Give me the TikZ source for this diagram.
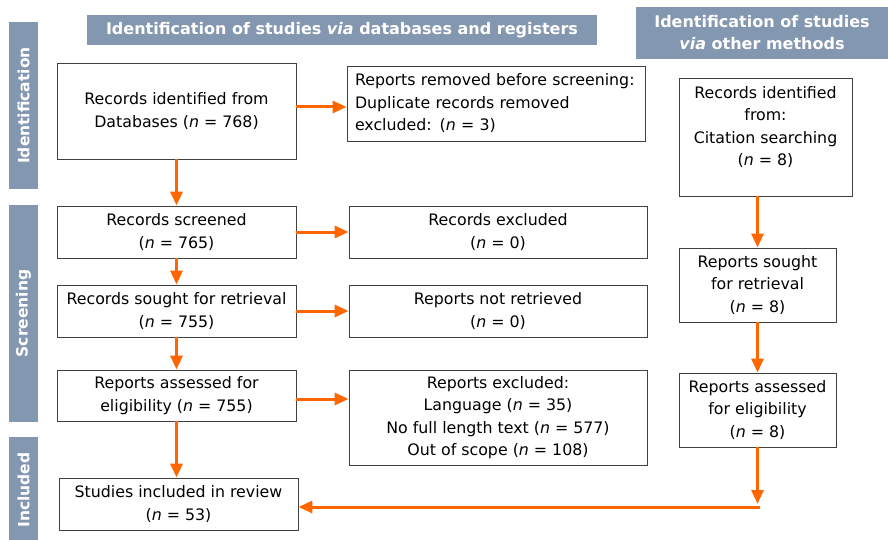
\documentclass[tikz,border=0pt]{standalone}
\usepackage{fontspec}
\setmainfont{DejaVu Sans}
\usetikzlibrary{arrows.meta}
\definecolor{headblue}{RGB}{132,151,176}
\definecolor{flow}{RGB}{255,102,0}
\definecolor{boxline}{RGB}{64,64,64}
\newcommand{\nn}{\textit{n}}

\begin{document}
\begin{tikzpicture}[x=1pt,y=-1pt,
  box/.style={draw=boxline,line width=0.9pt,align=center,inner sep=0pt,
    font=\fontsize{15.8}{22.5}\selectfont},
  head/.style={fill=headblue,text=white,align=center,inner sep=0pt,
    font=\fontsize{16}{22}\selectfont\bfseries},
  side/.style={fill=headblue,text=white,rotate=90,inner sep=0pt,minimum height=29,
    font=\fontsize{15.5}{16}\selectfont\bfseries},
  flowarrow/.style={draw=flow,line width=3pt,-{Triangle[length=14pt,width=12pt]}}]
\useasboundingbox (0,0) rectangle (888,540);

% column headers and stage bars
\node[head,minimum width=510,minimum height=30] (hdb) at (342,30)
  {Identification of studies \textit{via} databases and registers};
\node[head,minimum width=252,minimum height=52] (hot) at (762,33)
  {Identification of studies\\\textit{via} other methods};
\node[side,minimum width=167] (sid) at (23.5,105.5) {Identification};
\node[side,minimum width=217] (sscr) at (23.5,313.5) {Screening};
\node[side,minimum width=106] (sinc) at (23.5,490) {Included};

% databases and registers
\node[box,minimum width=239,minimum height=96] (ida) at (176.5,111)
  {Records identified from\\Databases (\nn{} = 768)};
\node[box,align=left,text width=282,inner xsep=8,minimum height=75] (dup) at (496,103.5)
  {Reports removed before screening:\\Duplicate records removed\\excluded: (\nn{} = 3)};
\node[box,minimum width=239,minimum height=52] (scr) at (176.5,232)
  {Records screened\\(\nn{} = 765)};
\node[box,minimum width=298,minimum height=52] (rex) at (498,232)
  {Records excluded\\(\nn{} = 0)};
\node[box,minimum width=239,minimum height=52] (sgt) at (176.5,311)
  {Records sought for retrieval\\(\nn{} = 755)};
\node[box,minimum width=298,minimum height=52] (nrt) at (498,311)
  {Reports not retrieved\\(\nn{} = 0)};
\node[box,minimum width=239,minimum height=51] (ass) at (176.5,395.5)
  {Reports assessed for\\eligibility (\nn{} = 755)};
\node[box,minimum width=298,minimum height=95] (rpx) at (498,417.5)
  {Reports excluded:\\Language (\nn{} = 35)\\No full length text (\nn{} = 577)\\Out of scope (\nn{} = 108)};
\node[box,minimum width=239,minimum height=52] (inc) at (178.5,504)
  {Studies included in review\\(\nn{} = 53)};

% other methods
\node[box,minimum width=173,minimum height=118] (ido) at (765.5,137)
  {Records identified\\from:\\Citation searching\\(\nn{} = 8)\\\mbox{}};
\node[box,minimum width=157,minimum height=74] (rso) at (757.5,285)
  {Reports sought\\for retrieval\\(\nn{} = 8)};
\node[box,minimum width=157,minimum height=74] (ras) at (757.5,410)
  {Reports assessed\\for eligibility\\(\nn{} = 8)};
\coordinate (jn) at (757.5,507);

% flow
\draw[flowarrow] (ida.south) -- (scr.north);
\draw[flowarrow] (scr.south) -- (sgt.north);
\draw[flowarrow] (sgt.south) -- (ass.north);
\draw[flowarrow] (ass.south) -- (ass.south |- inc.north);
\draw[flowarrow] ([yshift=4]ida.east) -- ([yshift=4]ida.east -| dup.west);
\draw[flowarrow] (scr.east) -- (rex.west);
\draw[flowarrow] (sgt.east) -- (nrt.west);
\draw[flowarrow] ([yshift=-3.5]ass.east) -- ([yshift=-3.5]ass.east -| rpx.west);
\draw[flowarrow] (rso.north |- ido.south) -- (rso.north);
\draw[flowarrow] (rso.south) -- (ras.north);
\draw[flowarrow] (ras.south) -- ([yshift=3]jn);
\draw[flowarrow] ([xshift=2]jn) -- (jn -| inc.east);
\end{tikzpicture}
\end{document}
